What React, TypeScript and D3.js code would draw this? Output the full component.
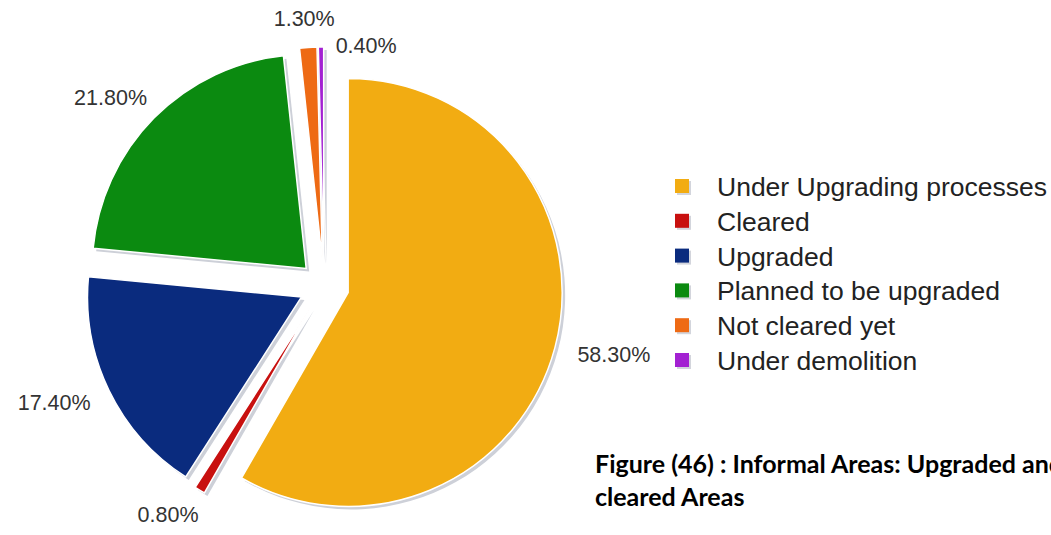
import { useMemo } from 'react';
import * as d3 from 'd3';

const WIDTH = 1051;
const HEIGHT = 535;

const categories = [
  'Under Upgrading processes',
  'Cleared',
  'Upgraded',
  'Planned to be upgraded',
  'Not cleared yet',
  'Under demolition',
];
const values = [58.3, 0.8, 17.4, 21.8, 1.3, 0.4];
const colors = ['#f2ac12', '#c8100f', '#0a2b7e', '#0b8a10', '#ee6a14', '#a321d2'];
const titleLines = ['Figure (46) : Informal Areas: Upgraded and', 'cleared Areas'];

const CX = 324;
const CY = 286;
const RADIUS = 214;
const EXPLODE = 25;
const LABEL_RX = 300;
const LABEL_RY = 268;
const LABEL_W = 72;
const LABEL_H = 18;

type Slice = d3.PieArcDatum<number>;

export default function App() {
  const arcs = useMemo(() => d3.pie<number>().sort(null).value((d) => d)(values), []);
  const arcGen = d3.arc<Slice>().innerRadius(0).outerRadius(RADIUS);

  // label positions on an ellipse round the pie, nudged if they collide
  const labels = useMemo(() => {
    const placed: { x: number; y: number; text: string }[] = [];
    arcs.forEach((a) => {
      const mid = (a.startAngle + a.endAngle) / 2;
      let x = CX + Math.sin(mid) * LABEL_RX;
      let y = CY - Math.cos(mid) * LABEL_RY;
      const prev = placed[placed.length - 1];
      if (prev && Math.abs(prev.x - x) < LABEL_W && Math.abs(prev.y - y) < LABEL_H) {
        x = prev.x + LABEL_W * 0.86;
        y = prev.y + LABEL_H * 1.55;
      }
      placed.push({ x, y, text: a.data.toFixed(2) + '%' });
    });
    return placed;
  }, [arcs]);

  const legendY = d3.scalePoint<string>().domain(categories).range([187, 361]);

  return (
    <div style={{ position: 'absolute', left: 0, top: 0 }}>
      <svg width={WIDTH} height={HEIGHT} style={{ display: 'block', background: '#fff' }}>
        <g transform={`translate(${CX},${CY})`}>
          {arcs.map((a, i) => {
            const mid = (a.startAngle + a.endAngle) / 2;
            const dx = Math.sin(mid) * EXPLODE;
            const dy = -Math.cos(mid) * EXPLODE;
            return (
              <g key={i} transform={`translate(${dx},${dy})`}>
                <path d={arcGen(a)!} fill="#cdd0d8" transform="translate(3,3)" />
                <path d={arcGen(a)!} fill={colors[i]} stroke="#fff" strokeWidth={1.5} />
              </g>
            );
          })}
        </g>
        {labels.map((l, i) => (
          <text
            key={i}
            x={l.x}
            y={l.y}
            textAnchor="middle"
            dominantBaseline="central"
            fontFamily="'Liberation Sans', Arial, sans-serif"
            fontSize={21.5}
            fill="#333"
          >
            {l.text}
          </text>
        ))}
        <g>
          {categories.map((c, i) => {
            const y = legendY(c)!;
            return (
              <g key={c}>
                <rect x={677} y={y - 6} width={14} height={14} fill="#d3d5dc" />
                <rect x={675} y={y - 8} width={14} height={14} fill={colors[i]} />
                <text
                  x={717}
                  y={y}
                  dominantBaseline="central"
                  fontFamily="'Liberation Sans', Arial, sans-serif"
                  fontSize={26.5}
                  fill="#222"
                >
                  {c}
                </text>
              </g>
            );
          })}
        </g>
        <g fontFamily="Lato, 'Open Sans', sans-serif" fontWeight="bold" fontSize={25} fill="#000">
          {titleLines.map((t, i) => (
            <text key={i} x={595} y={473 + i * 33}>
              {t}
            </text>
          ))}
        </g>
      </svg>
    </div>
  );
}
